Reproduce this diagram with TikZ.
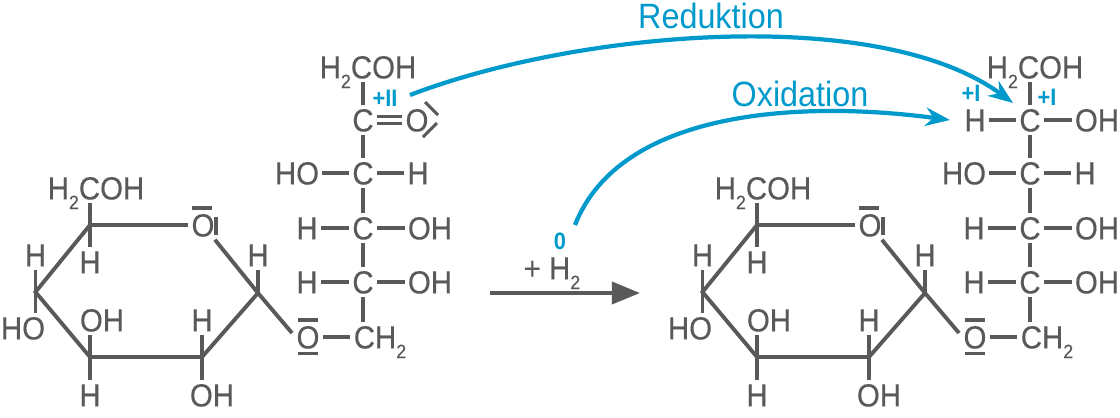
\documentclass[tikz,border=0pt]{standalone}
\usepackage{fontspec}
\setmainfont[FakeStretch=0.92,FakeBold=0.25]{Liberation Sans}
\newfontfamily\redoxfont[FakeStretch=0.92]{Liberation Sans}
\usetikzlibrary{arrows.meta}
\definecolor{bondgray}{HTML}{595959}
\definecolor{redoxblue}{HTML}{0099CC}
\newcommand{\lowtwo}{\raisebox{-5.5pt}{\fontsize{11}{11}\selectfont 2}}
\tikzset{
  atom/.style={font=\fontsize{18.2}{20}\selectfont, text=bondgray, inner sep=1.7pt, text height=13pt, text depth=0pt},
  bond/.style={draw=bondgray, line width=2.2pt},
  pair/.style={draw=bondgray, line width=1.8pt},
  redox/.style={font=\redoxfont\bfseries\fontsize{13.5}{15}\selectfont, text=redoxblue, inner sep=0pt},
  redoxname/.style={font=\redoxfont\fontsize{20}{22}\selectfont, text=redoxblue, inner sep=0pt},
  redoxarrow/.style={draw=redoxblue, line width=2.4pt, -{Stealth[length=14pt,width=10.5pt]}}
}

\begin{document}
\begin{tikzpicture}[x=0.02cm, y=-0.02cm]
    \useasboundingbox (0,0) rectangle (1120,417);
    % Draw the ring and the chain, once on each side of the arrow
    \foreach \off/\n in {0/a,667/b} {
      \begin{scope}[shift={(\off,0)}]
        % Ring corners
        \coordinate (v1\n) at (90,225);
        \coordinate (v2\n) at (35.5,292);
        \coordinate (v3\n) at (90,357);
        \coordinate (v4\n) at (202,357);
        \coordinate (v5\n) at (258,293);
        \coordinate (gl\n) at (292,333);
        \node[atom] (ro\n) at (203,225) {O};
        % Ring substituents
        \node[atom] (top\n) at (96,188) {H\lowtwo COH};
        \node[atom] (h1\n) at (90,262) {H};
        \node[atom] (h2\n) at (35.5,255) {H};
        \node[atom] (ho\n) at (23,328) {HO};
        \node[atom] (oh3\n) at (102,320) {OH};
        \node[atom] (h3\n) at (90,395) {H};
        \node[atom] (h4\n) at (202,320) {H};
        \node[atom] (oh4\n) at (212,395) {OH};
        \node[atom] (h5\n) at (258,255) {H};
        % Chain
        \node[atom] (go\n) at (308,337) {O};
        \node[atom] (ch\n) at (380,337) {CH\lowtwo};
        \node[atom] (c1\n) at (363,173) {C};
        \node[atom] (c2\n) at (363,228) {C};
        \node[atom] (c3\n) at (363,282) {C};
        \node[atom] (l1\n) at (297,173) {HO};
        \node[atom] (r1\n) at (418,173) {H};
        \node[atom] (l2\n) at (307,228) {H};
        \node[atom] (r2\n) at (430,228) {OH};
        \node[atom] (l3\n) at (307,282) {H};
        \node[atom] (r3\n) at (430,282) {OH};
        % Bonds
        \draw[bond] (v1\n) -- (ro\n);
        \draw[bond] (ro\n) -- (v5\n);
        \draw[bond, line cap=round] (v5\n) -- (v4\n) -- (v3\n) -- (v2\n) -- (v1\n);
        \draw[bond] (v1\n) -- (v1\n |- top\n.south);
        \draw[bond] (v1\n) -- (h1\n);
        \draw[bond] (v2\n) -- (h2\n);
        \draw[bond] (v2\n) -- (v2\n |- ho\n.north);
        \draw[bond] (v3\n) -- (v3\n |- oh3\n.south);
        \draw[bond] (v3\n) -- (h3\n);
        \draw[bond] (v4\n) -- (h4\n);
        \draw[bond] (v4\n) -- (v4\n |- oh4\n.north);
        \draw[bond] (v5\n) -- (h5\n);
        \draw[bond] (v5\n) -- (gl\n);
        \draw[bond] (go\n) -- (go\n -| ch\n.west);
        \draw[bond] (c1\n) -- (c2\n);
        \draw[bond] (c2\n) -- (c3\n);
        \draw[bond] (c3\n) -- (c3\n |- ch\n.north);
        \draw[bond] (l1\n) -- (c1\n);
        \draw[bond] (c1\n) -- (r1\n);
        \draw[bond] (l2\n) -- (c2\n);
        \draw[bond] (c2\n) -- (r2\n);
        \draw[bond] (l3\n) -- (c3\n);
        \draw[bond] (c3\n) -- (r3\n);
        % Lone pairs
        \draw[pair] (192,208) -- (212,208);
        \draw[pair] (216,217) -- (216,235);
        \draw[pair] (298,320) -- (318,320);
        \draw[pair] (298,353.5) -- (318,353.5);
      \end{scope}
    }
    % Top of the left chain
    \node[atom] (topl) at (368,67) {H\lowtwo COH};
    \node[atom] (cl) at (363,120) {C};
    \node[atom] (ol) at (417,120) {O};
    \draw[bond] (cl) -- (cl |- topl.south);
    \draw[bond] (cl) -- (c1a);
    \draw[draw=bondgray, line width=1.6pt, double, double distance=2.8pt] (cl) -- (ol);
    \draw[pair] (425,102) -- (438,115);
    \draw[pair] (423,137) -- (437,123);
    % Top of the right chain
    \node[atom] (topr) at (1035,67) {H\lowtwo COH};
    \node[atom] (cr) at (1030,120) {C};
    \node[atom] (hr) at (975,120) {H};
    \node[atom] (ohr) at (1097,120) {OH};
    \draw[bond] (cr) -- (cr |- topr.south);
    \draw[bond] (cr) -- (c1b);
    \draw[bond] (hr) -- (cr);
    \draw[bond] (cr) -- (ohr);
    % Reaction arrow
    \coordinate (from) at (490,293);
    \coordinate (to) at (640,293);
    \node[atom] (hyd) at (552,268) {+ H\lowtwo};
    \draw[bond, -{Triangle[length=16pt,width=12.5pt]}] (from) -- (to);
    % Oxidation numbers
    \node[redox] (nii) at (385,98) {+II};
    \node[redox] (ni) at (971,93) {+I};
    \node[redox] (nj) at (1047,97) {+I};
    \node[redox] (nzero) at (560,241) {0};
    % Reduktion and Oxidation
    \node[redoxname] (red) at (711,16) {Reduktion};
    \node[redoxname] (oxi) at (800,94) {Oxidation};
    \coordinate (reda) at (410,95);
    \coordinate (redb) at (1013,103);
    \coordinate (oxia) at (575,225);
    \coordinate (oxib) at (950,120);
    \draw[redoxarrow] (reda) .. controls (580,30) and (880,5) .. (redb);
    \draw[redoxarrow] (oxia) .. controls (620,110) and (800,100) .. (oxib);
\end{tikzpicture}
\end{document}
